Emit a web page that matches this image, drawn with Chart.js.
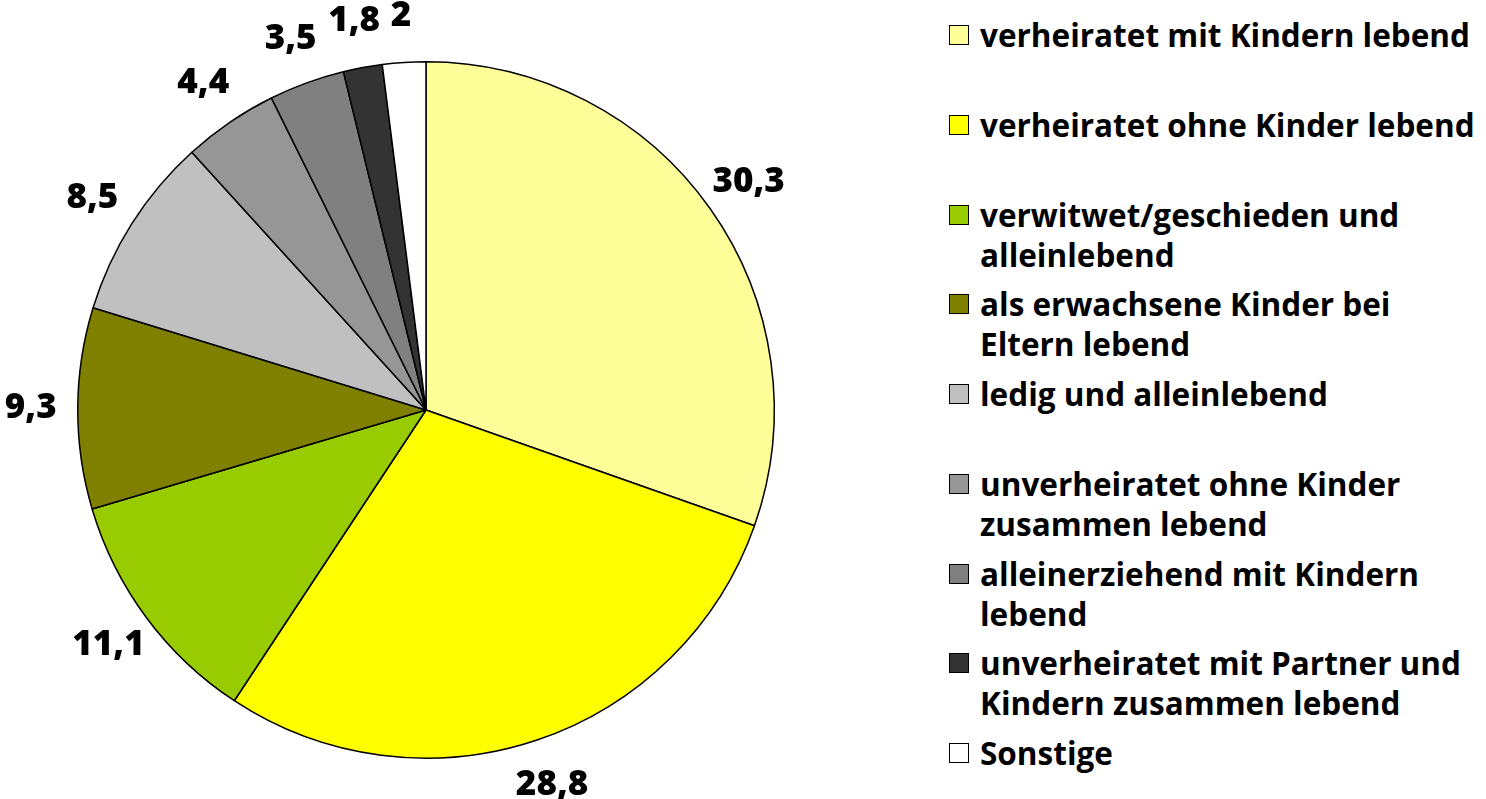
<!DOCTYPE html>
<html>
<head>
<meta charset="utf-8">
<script src="https://cdn.jsdelivr.net/npm/chart.js@4/dist/chart.umd.min.js"></script>
<style>
    html, body { margin: 0; padding: 0; background: #fff; }
    #wrap { position: relative; width: 1486px; height: 799px; overflow: hidden; }
    #chartBox { position: absolute; left: 0; top: 0; width: 852px; height: 799px; }
    #legend { position: absolute; left: 949px; top: 15px; font-family: "Open Sans", sans-serif; font-weight: bold; font-size: 31.5px; color: #000; }
    .item { position: relative; height: 89.75px; padding-left: 31px; line-height: 40px; white-space: nowrap; }
    .box { position: absolute; left: 0; top: 10px; width: 18px; height: 18px; border: 1.5px solid #000; }
</style>
</head>
<body>
<div id="wrap">
    <div id="chartBox"><canvas id="pieChart"></canvas></div>
    <div id="legend"></div>
</div>
<script>
// Lebensform (Anteile in %)
const categories = [
    ['verheiratet mit Kindern lebend'],
    ['verheiratet ohne Kinder lebend'],
    ['verwitwet/geschieden und', 'alleinlebend'],
    ['als erwachsene Kinder bei', 'Eltern lebend'],
    ['ledig und alleinlebend'],
    ['unverheiratet ohne Kinder', 'zusammen lebend'],
    ['alleinerziehend mit Kindern', 'lebend'],
    ['unverheiratet mit Partner und', 'Kindern zusammen lebend'],
    ['Sonstige']
];
const values = [30.3, 28.8, 11.1, 9.3, 8.5, 4.4, 3.5, 1.8, 2];
const valueLabels = ['30,3', '28,8', '11,1', '9,3', '8,5', '4,4', '3,5', '1,8', '2'];
const colors = ['#FFFF99', '#FFFF00', '#99CC00', '#808000', '#C0C0C0', '#969696', '#808080', '#333333', '#FFFFFF'];

// Labels outside the slices
const outsideLabels = {
    id: 'outsideLabels',
    afterDatasetsDraw(chart) {
        const {ctx} = chart;
        const arcs = chart.getDatasetMeta(0).data;
        ctx.save();
        ctx.fillStyle = '#000';
        ctx.font = '800 35px "Open Sans"';
        ctx.textAlign = 'center';
        ctx.textBaseline = 'middle';
        arcs.forEach((arc, i) => {
            const mid = (arc.startAngle + arc.endAngle) / 2;
            const r = arc.outerRadius + 47;
            ctx.fillText(valueLabels[i], arc.x + Math.cos(mid) * r, arc.y + Math.sin(mid) * r);
        });
        ctx.restore();
    }
};

new Chart(document.getElementById('pieChart'), {
    type: 'pie',
    data: {
        labels: categories.map(c => c.join(' ')),
        datasets: [{
            data: values,
            backgroundColor: colors,
            borderColor: '#000',
            borderWidth: 1.5
        }]
    },
    options: {
        responsive: true,
        maintainAspectRatio: false,
        animation: false,
        layout: { padding: { top: 61, bottom: 40, left: 77, right: 77 } },
        plugins: {
            legend: { display: false },
            tooltip: { enabled: false }
        }
    },
    plugins: [outsideLabels]
});

// Legend
const legend = document.getElementById('legend');
categories.forEach((lines, i) => {
    const item = document.createElement('div');
    item.className = 'item';
    const box = document.createElement('span');
    box.className = 'box';
    box.style.background = colors[i];
    item.appendChild(box);
    lines.forEach(line => {
        const row = document.createElement('div');
        row.textContent = line;
        item.appendChild(row);
    });
    legend.appendChild(item);
});
</script>
</body>
</html>
